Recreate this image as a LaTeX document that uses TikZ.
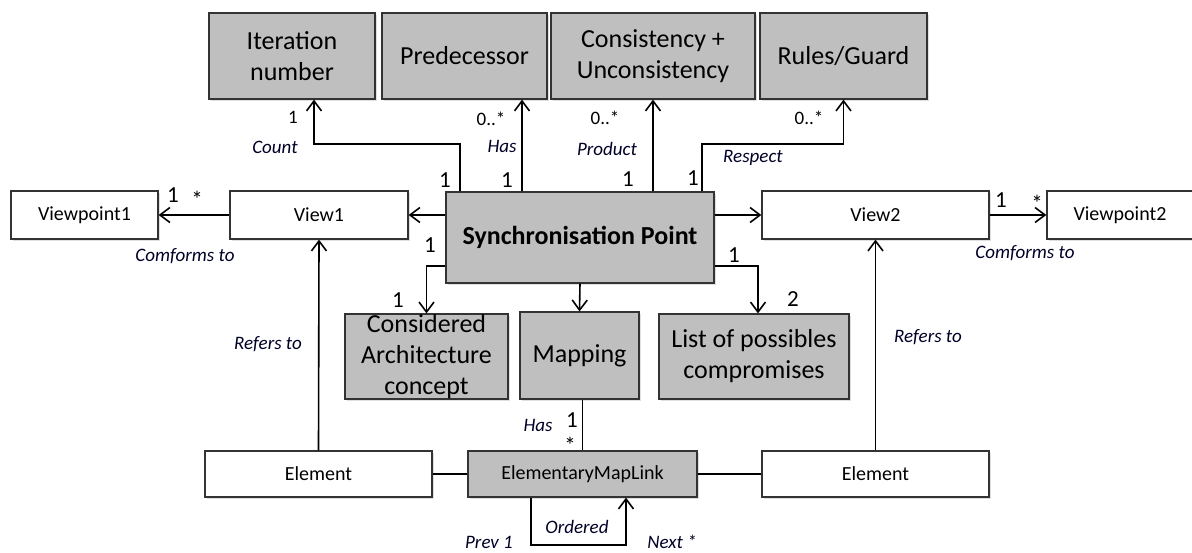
\documentclass[tikz,border=0pt]{standalone}
\usepackage{fontspec}
\setmainfont{Carlito}
\usetikzlibrary{arrows.meta,shadows}
\newcommand\fsbig{\fontsize{26}{31}\selectfont}
\newcommand\fsmid{\fontsize{20}{23}\selectfont}
\newcommand\fslab{\fontsize{19}{21}\selectfont\itshape}
\newcommand\fsnum{\fontsize{23}{25}\selectfont}
\newcommand\fssmall{\fontsize{19}{21}\selectfont}
\tikzset{
  gbox/.style={draw=black!80, fill=black!25, line width=1.2pt, inner sep=0pt, align=center,
     drop shadow={shadow xshift=1.5pt, shadow yshift=-1.5pt, opacity=0.25}},
  wbox/.style={draw=black!80, fill=white, line width=1.2pt, inner sep=0pt, align=center,
     drop shadow={shadow xshift=1.5pt, shadow yshift=-1.5pt, opacity=0.25}},
  conn/.style={line width=1.6pt, -{Straight Barb[length=10pt,width=15pt]}},
  plain/.style={line width=1.6pt},
  lab/.style={inner sep=0pt, font=\fslab, text=black!85!blue},
  num/.style={inner sep=0pt, font=\fsnum},
  snum/.style={inner sep=0pt, font=\fssmall},
  star/.style={inner sep=0pt, font=\fsnum}
}
\begin{document}
\begin{tikzpicture}[x=1pt,y=-1pt]
\useasboundingbox (0,0) rectangle (1192,552);
% top boxes
\node[gbox, minimum width=166, minimum height=86, font=\fsbig] (iter) at (292,56) {Iteration\\number};
\node[gbox, minimum width=165, minimum height=86, font=\fsbig] (pred) at (464.5,56) {Predecessor};
\node[gbox, minimum width=204, minimum height=86, font=\fsbig] (cons) at (653,56) {Consistency +\\Unconsistency};
\node[gbox, minimum width=167, minimum height=86, font=\fsbig] (rules) at (843.5,56) {Rules/Guard};
% sync
\node[gbox, minimum width=268, minimum height=91, font=\fsbig\bfseries] (sync) at (580,237.5) {Synchronisation Point};
% views
\node[wbox, minimum width=147, minimum height=48, font=\fsmid] (vp1) at (84.5,215) {Viewpoint1};
\node[wbox, minimum width=178, minimum height=48, font=\fsmid] (view1) at (319,215) {View1};
\node[wbox, minimum width=227, minimum height=48, font=\fsmid] (view2) at (875.5,215) {View2};
\node[wbox, minimum width=146, minimum height=48, font=\fsmid] (vp2) at (1120,215) {Viewpoint2};
% middle boxes
\node[gbox, minimum width=163, minimum height=85, font=\fsbig] (arch) at (426.5,356.5) {Considered\\Architecture\\concept};
\node[gbox, minimum width=119, minimum height=87, font=\fsbig] (map) at (579.5,355.5) {Mapping};
\node[gbox, minimum width=190, minimum height=85, font=\fsbig] (list) at (754,356.5) {List of possibles\\compromises};
% bottom
\node[wbox, minimum width=227, minimum height=46, font=\fsmid] (el1) at (318.5,474) {Element};
\node[gbox, minimum width=229, minimum height=46, font=\fsmid] (eml) at (582.5,474) {ElementaryMapLink};
\node[wbox, minimum width=227, minimum height=46, font=\fsmid] (el2) at (875.5,474) {Element};
% coordinates
\coordinate (cI) at (460,144);
\coordinate (bI) at (314,144);
\coordinate (xP) at (522,0);
\coordinate (cR) at (702,144);
\coordinate (cC) at (427,266);
\coordinate (cL) at (758,266);
\coordinate (l1) at (531,545);
\coordinate (l2) at (626,545);
% connectors
\draw[conn] (sync.north -| cI) -- (cI) -- (bI) -- (iter.south -| bI);
\draw[conn] (sync.north -| xP) -- (pred.south -| xP);
\draw[conn] (sync.north -| cons.south) -- (cons.south);
\draw[conn] (sync.north -| cR) -- (cR) -| (rules.south);
\draw[conn] (view1.east -| sync.west) -- (view1.east);
\draw[conn] (view1.west) -- (vp1.east);
\draw[conn] (view2.west -| sync.east) -- (view2.west);
\draw[conn] (view2.east) -- (vp2.west);
\draw[conn] (sync.west |- cC) -| (arch.north);
\draw[conn] (sync.south) -- (map.north);
\draw[conn] (sync.east |- cL) -- (cL) -- (list.north -| cL);
\draw[conn] (el1.north) -- (view1.south);
\draw[conn] (el2.north) -- (view2.south);
\draw[plain] (map.south -| eml.north) -- (eml.north);
\draw[plain] (el1.east) -- (eml.west);
\draw[plain] (eml.east) -- (el2.west);
\draw[conn] (eml.south -| l1) -- (l1) -- (l2) -- (eml.south -| l2);
% labels
\node[snum] (m1) at (293,117) {1};
\node[lab] (t1) at (275,147) {Count};
\node[num] (m2) at (445,180) {1};
\node[snum] (m3) at (491,119) {0..*};
\node[lab] (t2) at (502,146) {Has};
\node[num] (m4) at (507,180) {1};
\node[snum] (m5) at (605,118) {0..*};
\node[lab] (t3) at (607,149) {Product};
\node[num] (m6) at (628,179) {1};
\node[num] (m7) at (693,178) {1};
\node[snum] (m8) at (809,118) {0..*};
\node[lab] (t4) at (753,158) {Respect};
\node[num] (m9) at (173,195) {1};
\node[star] (m10) at (197,199) {*};
\node[lab] (t5) at (185,256) {Comforms to};
\node[num] (m11) at (430,245) {1};
\node[num] (m12) at (398,300) {1};
\node[num] (m13) at (1001,200) {1};
\node[star] (m14) at (1037,203) {*};
\node[lab] (t6) at (1025,253) {Comforms to};
\node[num] (m15) at (734,255) {1};
\node[num] (m16) at (793,299) {2};
\node[lab] (t7) at (268,344) {Refers to};
\node[lab] (t8) at (928,337) {Refers to};
\node[lab] (t9) at (538,425) {Has};
\node[num] (m17) at (572,420) {1};
\node[star] (m18) at (570,445) {*};
\node[lab] (t10) at (577,527) {Ordered};
\node[lab] (t11) at (489,542) {Prev 1};
\node[lab] (t12) at (672,542) {Next *};
\end{tikzpicture}
\end{document}
